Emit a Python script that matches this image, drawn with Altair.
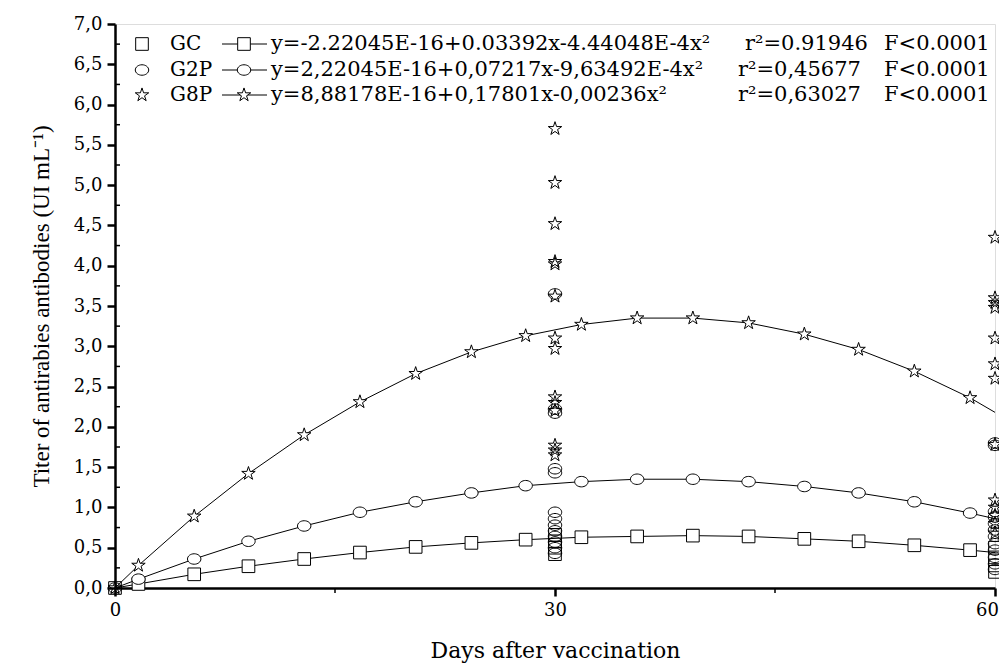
import altair as alt
import pandas as pd

groups = ["GC", "G2P", "G8P"]

# ---- fitted-curve marker positions (days) and titers
curve_days = [1.6, 5.4, 9.1, 12.9, 16.7, 20.5, 24.3, 28.0, 31.8, 35.6, 39.4, 43.2, 47.0, 50.7, 54.5, 58.3]
gc_curve = [0.05, 0.17, 0.27, 0.36, 0.44, 0.51, 0.56, 0.60, 0.63, 0.64, 0.65, 0.64, 0.61, 0.58, 0.53, 0.47]
g2p_curve = [0.11, 0.36, 0.58, 0.77, 0.94, 1.07, 1.18, 1.27, 1.32, 1.35, 1.35, 1.32, 1.26, 1.18, 1.07, 0.93]
g8p_curve = [0.28, 0.89, 1.42, 1.90, 2.31, 2.66, 2.93, 3.13, 3.27, 3.35, 3.35, 3.29, 3.15, 2.96, 2.69, 2.36]

# curve end points (day 0 and day 60)
end_days = [0, 60]
gc_ends = [0.0, 0.44]
g2p_ends = [0.0, 0.86]
g8p_ends = [0.0, 2.18]

# ---- observed titers
gc_d0 = [0.0]
gc_d30 = [0.42, 0.50, 0.58, 0.66]
gc_d60 = [0.20, 0.28, 0.38, 0.50]
g2p_d0 = [0.0]
g2p_d30 = [3.65, 2.22, 2.17, 1.48, 1.43, 0.94, 0.86, 0.78, 0.71, 0.64, 0.57, 0.50, 0.43]
g2p_d60 = [1.80, 1.77, 0.95, 0.88, 0.80, 0.72, 0.64, 0.55, 0.47, 0.38, 0.30, 0.23]
g8p_d0 = [0.0]
g8p_d30 = [5.70, 5.03, 4.52, 4.05, 4.02, 3.62, 3.10, 2.97, 2.37, 2.30, 2.20, 1.77, 1.71, 1.65]
g8p_d60 = [4.35, 3.60, 3.54, 3.48, 3.10, 2.78, 2.60, 1.78, 1.09, 1.00, 0.90, 0.80, 0.68]

equations = [
    "y=-2.22045E-16+0.03392x-4.44048E-4x\u00b2",
    "y=2,22045E-16+0,07217x-9,63492E-4x\u00b2",
    "y=8,88178E-16+0,17801x-0,00236x\u00b2",
]
r2_texts = ["r\u00b2=0.91946", "r\u00b2=0,45677", "r\u00b2=0,63027"]
f_texts = ["F<0.0001", "F<0.0001", "F<0.0001"]

y_ticks = [0, 0.5, 1, 1.5, 2, 2.5, 3, 3.5, 4, 4.5, 5, 5.5, 6, 6.5, 7]
y_minor = [0.25, 0.75, 1.25, 1.75, 2.25, 2.75, 3.25, 3.75, 4.25, 4.75, 5.25, 5.75, 6.25, 6.75]
x_ticks = [0, 30, 60]
x_minor = [15, 45]

# ---- tables
curve_vals = {"GC": gc_curve, "G2P": g2p_curve, "G8P": g8p_curve}
end_vals = {"GC": gc_ends, "G2P": g2p_ends, "G8P": g8p_ends}
obs = {
    "GC": [(0, gc_d0), (30, gc_d30), (60, gc_d60)],
    "G2P": [(0, g2p_d0), (30, g2p_d30), (60, g2p_d60)],
    "G8P": [(0, g8p_d0), (30, g8p_d30), (60, g8p_d60)],
}

line_rows, mark_rows, obs_rows = [], [], []
for g in groups:
    for d, v in zip(curve_days, curve_vals[g]):
        line_rows.append({"group": g, "day": d, "titer": v})
        mark_rows.append({"group": g, "day": d, "titer": v})
    for d, v in zip(end_days, end_vals[g]):
        line_rows.append({"group": g, "day": d, "titer": v})
    for d, vals in obs[g]:
        for v in vals:
            obs_rows.append({"group": g, "day": d, "titer": v})

line_df = pd.DataFrame(line_rows)
mark_df = pd.DataFrame(mark_rows)
obs_df = pd.DataFrame(obs_rows)

STAR = ("M0,-1L0.2245,-0.309L0.9511,-0.309L0.3633,0.118L0.5878,0.809L0,0.382"
        "L-0.5878,0.809L-0.3633,0.118L-0.9511,-0.309L-0.2245,-0.309Z")
ELLIPSE = "M-1,0A1,0.78,0,1,0,1,0A1,0.78,0,1,0,-1,0Z"
SHAPES = ["square", ELLIPSE, STAR]
SIZES = [160, 200, 210]

W, H = 880, 564
FONT = "DejaVu Serif"
NAME_FS = 20
LEG_FS = 21

xscale = alt.Scale(domain=[0, 60], nice=False, zero=False)
yscale = alt.Scale(domain=[0, 7], nice=False)
shape_scale = alt.Scale(domain=groups, range=SHAPES)
size_scale = alt.Scale(domain=groups, range=SIZES)

x_enc = alt.X(
    "day:Q", scale=xscale,
    axis=alt.Axis(values=x_ticks, format="d", title="Days after vaccination",
                  grid=False, domainWidth=2.5, domainColor="black", tickWidth=2.5,
                  tickColor="black", tickSize=8, labelFont=FONT, labelFontSize=18,
                  labelColor="black", labelPadding=5, labelFlush=False,
                  labelOffset={"condition": {"test": "datum.value == 60", "value": -8},
                               "value": 0},
                  titleFont=FONT, titleFontSize=22, titleFontWeight="normal",
                  titleColor="black", titlePadding=21),
)
y_enc = alt.Y(
    "titer:Q", scale=yscale,
    axis=alt.Axis(values=y_ticks, labelExpr="replace(format(datum.value, '.1f'), '.', ',')",
                  title="Titer of antirabies antibodies (UI mL\u207b\u00b9)",
                  grid=False, domainWidth=2.5, domainColor="black", tickWidth=2.5,
                  tickColor="black", tickSize=8, labelFont=FONT, labelFontSize=18,
                  labelColor="black", labelPadding=5,
                  titleFont="Liberation Serif", titleFontSize=23, titleFontWeight="normal",
                  titleColor="black", titlePadding=20),
)

lines = alt.Chart(line_df).mark_line(color="black", strokeWidth=1).encode(
    x=x_enc, y=y_enc, detail="group:N", order="day:Q"
)
curve_marks = alt.Chart(mark_df).mark_point(
    filled=False, fill="white", fillOpacity=1, stroke="black", strokeWidth=1, opacity=1
).encode(
    x="day:Q", y="titer:Q",
    shape=alt.Shape("group:N", scale=shape_scale, legend=None),
    size=alt.Size("group:N", scale=size_scale, legend=None),
)
obs_marks = alt.Chart(obs_df).mark_point(
    filled=False, stroke="black", strokeWidth=1, opacity=1
).encode(
    x="day:Q", y="titer:Q",
    shape=alt.Shape("group:N", scale=shape_scale, legend=None),
    size=alt.Size("group:N", scale=size_scale, legend=None),
)

ymin_df = pd.DataFrame({"titer": y_minor})
xmin_df = pd.DataFrame({"day": x_minor})
y_minor_ticks = alt.Chart(ymin_df).mark_rule(color="black", strokeWidth=1.5).encode(
    y="titer:Q", x=alt.value(0), x2=alt.value(5)
)
x_minor_ticks = alt.Chart(xmin_df).mark_rule(color="black", strokeWidth=1.5).encode(
    x="day:Q", y=alt.value(H), y2=alt.value(H + 5)
)

# ---- legend (drawn as annotation)
leg_layers = []
row_y = [20, 46, 71]
for i, g in enumerate(groups):
    one = pd.DataFrame({"group": [g], "name": [g], "eq": [equations[i]],
                        "r2": [r2_texts[i]], "f": [f_texts[i]]})
    base = alt.Chart(one)
    ry = row_y[i]
    leg_layers.append(base.mark_point(filled=False, fill="white", fillOpacity=1,
                                      stroke="black", strokeWidth=1, opacity=1).encode(
        x=alt.value(27), y=alt.value(ry),
        shape=alt.Shape("group:N", scale=shape_scale, legend=None),
        size=alt.Size("group:N", scale=size_scale, legend=None)))
    leg_layers.append(base.mark_text(align="left", baseline="middle", font=FONT,
                                     fontSize=NAME_FS, color="black").encode(
        x=alt.value(55), y=alt.value(ry), text="name:N"))
    leg_layers.append(base.mark_rule(color="black", strokeWidth=1).encode(
        x=alt.value(107), x2=alt.value(152), y=alt.value(ry)))
    leg_layers.append(base.mark_point(filled=False, fill="white", fillOpacity=1,
                                      stroke="black", strokeWidth=1, opacity=1).encode(
        x=alt.value(129), y=alt.value(ry),
        shape=alt.Shape("group:N", scale=shape_scale, legend=None),
        size=alt.Size("group:N", scale=size_scale, legend=None)))
    leg_layers.append(base.mark_text(align="left", baseline="middle", font=FONT,
                                     fontSize=LEG_FS, color="black").encode(
        x=alt.value(156), y=alt.value(ry), text="eq:N"))
    leg_layers.append(base.mark_text(align="left", baseline="middle", font=FONT,
                                     fontSize=LEG_FS, color="black").encode(
        x=alt.value(630 if i == 0 else 623), y=alt.value(ry), text="r2:N"))
    leg_layers.append(base.mark_text(align="left", baseline="middle", font=FONT,
                                     fontSize=LEG_FS, color="black").encode(
        x=alt.value(769), y=alt.value(ry), text="f:N"))

chart = alt.layer(
    lines, curve_marks, obs_marks, y_minor_ticks, x_minor_ticks, *leg_layers
).properties(
    width=W, height=H,
    autosize=alt.AutoSizeParams(type="none"),
    padding={"left": 107, "top": 16, "right": 4, "bottom": 80},
).configure_view(stroke=None).configure(background="white")

chart.save("out.html", embed_options={"renderer": "svg", "actions": False})
